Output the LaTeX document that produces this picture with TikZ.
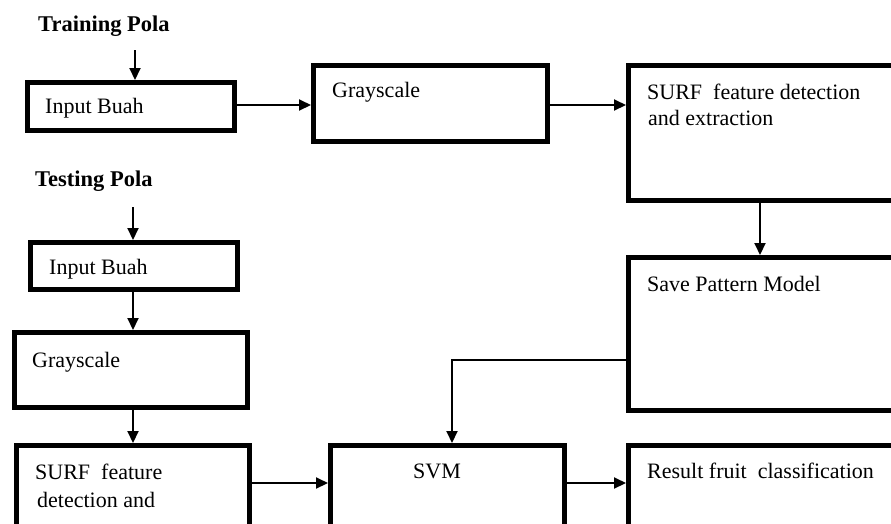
\documentclass[tikz,border=0pt]{standalone}
\usepackage{fontspec}
\setmainfont{Liberation Serif}
\usetikzlibrary{arrows.meta}
\tikzset{
  box/.style={draw=black, line width=5pt, rectangle, inner sep=0pt},
  txt/.style={anchor=base west, inner sep=0pt, font=\fontsize{22}{24}\selectfont},
  ttl/.style={anchor=base west, inner sep=0pt, font=\fontsize{22.5}{24}\selectfont\bfseries},
  arr/.style={line width=2pt, -{Triangle[length=12pt,width=11pt]}},
}
\newcommand{\boxfrom}[5]{%
  \node[box, minimum width={#4-#2}, minimum height={#5-#3}] (#1) at ({(#2+#4)/2},{-(#3+#5)/2}) {};}
\begin{document}
\begin{tikzpicture}[x=1pt,y=1pt]
\useasboundingbox (0,0) rectangle (891,-523);
\clip (0,0) rectangle (891,-523);
% boxes (centre-line coordinates, pixels, y down)
\boxfrom{in1}{27.5}{82.5}{234.5}{130.5}
\boxfrom{gray1}{313.5}{65.5}{547.5}{141.5}
\boxfrom{surf1}{628.5}{65.5}{905}{200.5}
\boxfrom{save}{628.5}{257.5}{905}{410.5}
\boxfrom{res}{628.5}{445.5}{905}{545}
\boxfrom{svm}{330.5}{445.5}{564.5}{545}
\boxfrom{surf2}{16.5}{445.5}{249.5}{545}
\boxfrom{gray2}{14.5}{332.5}{247.5}{407.5}
\boxfrom{in2}{30.5}{242.5}{237.5}{289.5}
% texts
\node[ttl] (tTrain) at (38,-31) {Training Pola};
\node[ttl] (tTest) at (35,-186) {Testing Pola};
\node[txt] (l1) at (45,-113) {Input Buah};
\node[txt] (l2) at (332,-97) {Grayscale};
\node[txt] (l3) at (647,-99) {SURF\ \ feature detection};
\node[txt] (l3b) at (648,-125) {and extraction};
\node[txt] (l4) at (647,-291) {Save Pattern Model};
\node[txt] (l5) at (49,-274) {Input Buah};
\node[txt] (l6) at (32,-367) {Grayscale};
\node[txt] (l7) at (35,-479) {SURF\ \ feature};
\node[txt] (l7b) at (37,-507) {detection and};
\node[txt] (l8) at (413,-478) {SVM};
\node[txt] (l9) at (647,-478) {Result fruit\ \ classification};
% helper coordinates
\coordinate (a1) at (135,-50);
\coordinate (a2) at (133,-207);
\coordinate (hy1) at (0,-105);
\coordinate (hy2) at (0,-483);
\coordinate (c760) at (760,0);
\coordinate (k) at (452,-360);
% connectors
\draw[arr] (a1) -- (a1 |- in1.north);
\draw[arr] (in1.east |- hy1) -- (gray1.west |- hy1);
\draw[arr] (gray1.east |- hy1) -- (surf1.west |- hy1);
\draw[arr] (c760 |- surf1.south) -- (c760 |- save.north);
\draw[arr] (save.west |- k) -| (k |- svm.north);
\draw[arr] (a2) -- (a2 |- in2.north);
\draw[arr] (a2 |- in2.south) -- (a2 |- gray2.north);
\draw[arr] (a2 |- gray2.south) -- (a2 |- surf2.north);
\draw[arr] (surf2.east |- hy2) -- (svm.west |- hy2);
\draw[arr] (svm.east |- hy2) -- (res.west |- hy2);
\end{tikzpicture}
\end{document}
